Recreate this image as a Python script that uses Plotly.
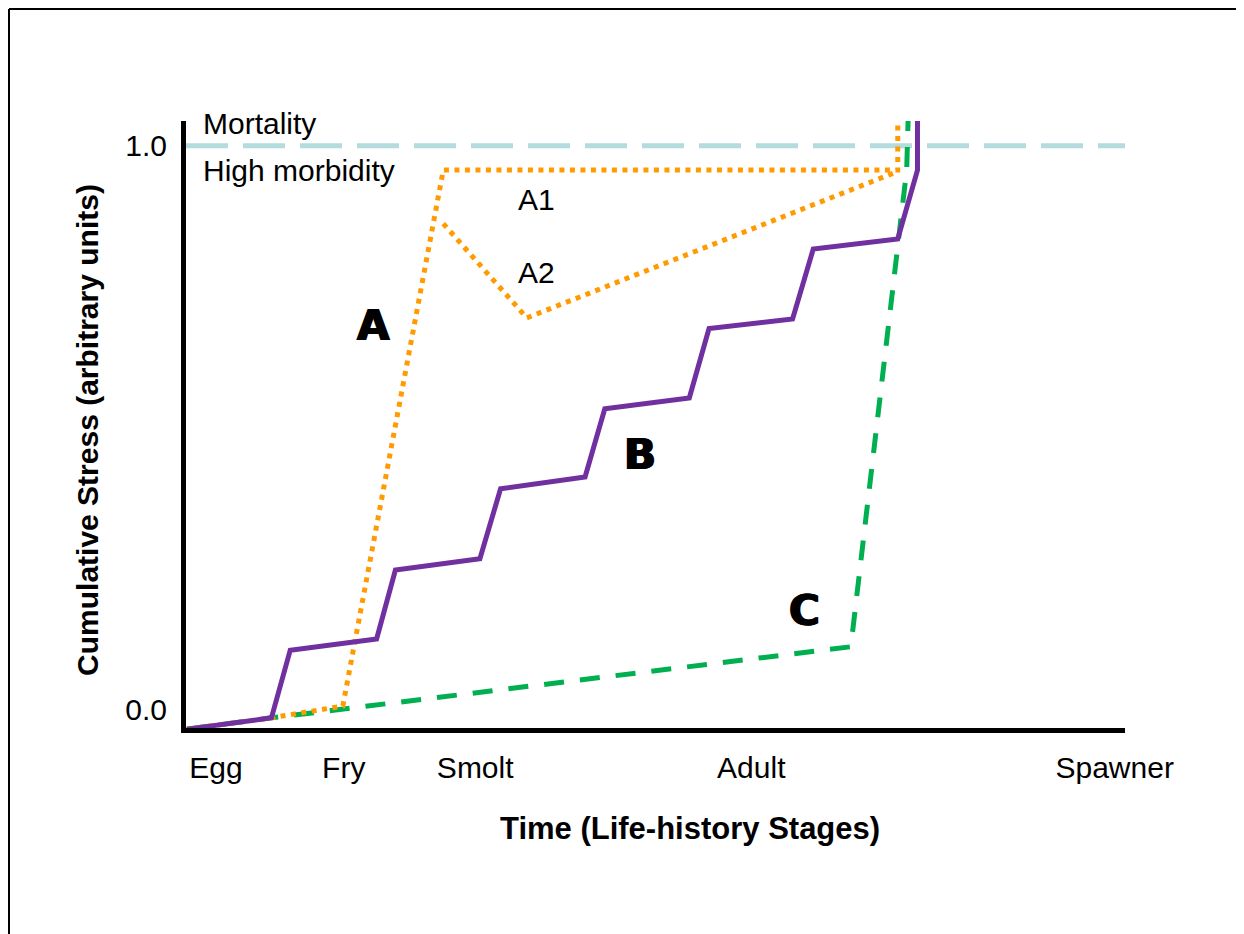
import plotly.graph_objects as go

# life-history stage tick positions (arbitrary time units, 0-100)
STAGES = ["Egg", "Fry", "Smolt", "Adult", "Spawner"]
STAGE_X = [3.2, 16.8, 30.8, 60.2, 98.9]

# curve B: stepwise accumulation
B_X = [0.1, 9.1, 11.1, 20.3, 22.3, 31.3, 33.5, 42.5, 44.6, 53.6, 55.7, 64.6, 66.8, 75.8, 77.9, 77.9]
B_Y = [-0.034, -0.014, 0.106, 0.126, 0.248, 0.268, 0.392, 0.413, 0.534, 0.553,
       0.676, 0.693, 0.817, 0.835, 0.957, 1.044]

# curve A: early acute stress, plateau at high morbidity
A_X = [0.1, 9.1, 16.7, 27.4, 75.8, 75.8]
A_Y = [-0.034, -0.014, 0.007, 0.957, 0.957, 1.036]

# branch A2: partial recovery after smolt
A2_X = [27.4, 36.3, 75.7]
A2_Y = [0.862, 0.695, 0.954]

# curve C: late stress
C_X = [0.1, 9.1, 70.8, 76.75, 76.9]
C_Y = [-0.034, -0.014, 0.112, 0.957, 1.044]

MORTALITY_X = [0, 100]
MORTALITY_Y = [1.0, 1.0]

PURPLE = "#7030a0"
ORANGE = "#ff9b00"
GREEN = "#00b050"
LIGHTBLUE = "#b4dcde"
FONT = "Liberation Sans, Arial, sans-serif"
HEAVY = "DejaVu Sans, sans-serif"

fig = go.Figure()
fig.add_trace(go.Scatter(x=MORTALITY_X, y=MORTALITY_Y, mode="lines",
                         line={"color": LIGHTBLUE, "width": 5, "dash": "42px,15px"}))
fig.add_trace(go.Scatter(x=C_X, y=C_Y, mode="lines",
                         line={"color": GREEN, "width": 5, "dash": "20px,16px"}))
fig.add_trace(go.Scatter(x=A_X, y=A_Y, mode="lines",
                         line={"color": ORANGE, "width": 5, "dash": "5px,5.5px"}))
fig.add_trace(go.Scatter(x=A2_X, y=A2_Y, mode="lines",
                         line={"color": ORANGE, "width": 5, "dash": "5px,5.5px"}))
fig.add_trace(go.Scatter(x=B_X, y=B_Y, mode="lines",
                         line={"color": PURPLE, "width": 5}))

labels = [
    (1.6, 1.039, "Mortality", "left"),
    (1.6, 0.957, "High morbidity", "left"),
    (37.3, 0.904, "A1", "center"),
    (37.3, 0.775, "A2", "center"),
]
for x, y, t, xa in labels:
    fig.add_annotation(x=x, y=y, text=t, showarrow=False, xanchor=xa, yanchor="middle",
                       font={"family": FONT, "size": 30, "color": "black"})

# heavy curve letters (thickened a little to look like a black-weight face)
for x, y, t in [(20.0, 0.681, "A"), (48.4, 0.452, "B"), (65.9, 0.176, "C")]:
    fig.add_annotation(x=x, y=y, text=f"<b>{t}</b>", showarrow=False,
                       font={"family": HEAVY, "size": 42, "color": "black",
                             "shadow": "1px 0px 0px black, -1px 0px 0px black"})

fig.add_annotation(xref="paper", yref="paper", x=0.537, y=-0.165, text="<b>Time (Life-history Stages)</b>",
                   showarrow=False, xanchor="center", yanchor="middle",
                   font={"family": FONT, "size": 31, "color": "black"})
fig.add_annotation(xref="paper", yref="paper", x=-0.1044, y=0.491,
                   text="<b>Cumulative Stress (arbitrary units)</b>", textangle=-90,
                   showarrow=False, xanchor="center", yanchor="middle",
                   font={"family": FONT, "size": 30, "color": "black"})

# outer frame: only top and left edges are visible in the original crop
fig.add_shape(type="line", xref="paper", yref="paper", x0=-0.1885, y0=-0.5, x1=-0.1885, y1=1.1845,
              line={"color": "black", "width": 2}, layer="below")
fig.add_shape(type="line", xref="paper", yref="paper", x0=-0.1885, y0=1.1845, x1=1.5, y1=1.1845,
              line={"color": "black", "width": 2}, layer="below")

# page body adds an 8px margin, so plot-area margins are offset by it
fig.update_layout(
    width=1228, height=934,
    margin={"l": 178, "r": 111, "t": 113, "b": 214},
    paper_bgcolor="white", plot_bgcolor="white",
    showlegend=False,
    font={"family": FONT, "size": 30, "color": "black"},
)
fig.update_xaxes(range=[0, 100], tickvals=STAGE_X, ticktext=STAGES, showgrid=False, zeroline=False,
                 showline=True, linecolor="black", linewidth=5, ticks="", ticklabelstandoff=9,
                 tickfont={"family": FONT, "size": 30})
fig.update_yaxes(range=[-0.032, 1.044], tickvals=[0, 1], ticktext=["0.0", "1.0"], showgrid=False,
                 zeroline=False, showline=True, linecolor="black", linewidth=5, ticks="",
                 ticklabelstandoff=8, tickfont={"family": FONT, "size": 30})

fig.write_html("out.html")
